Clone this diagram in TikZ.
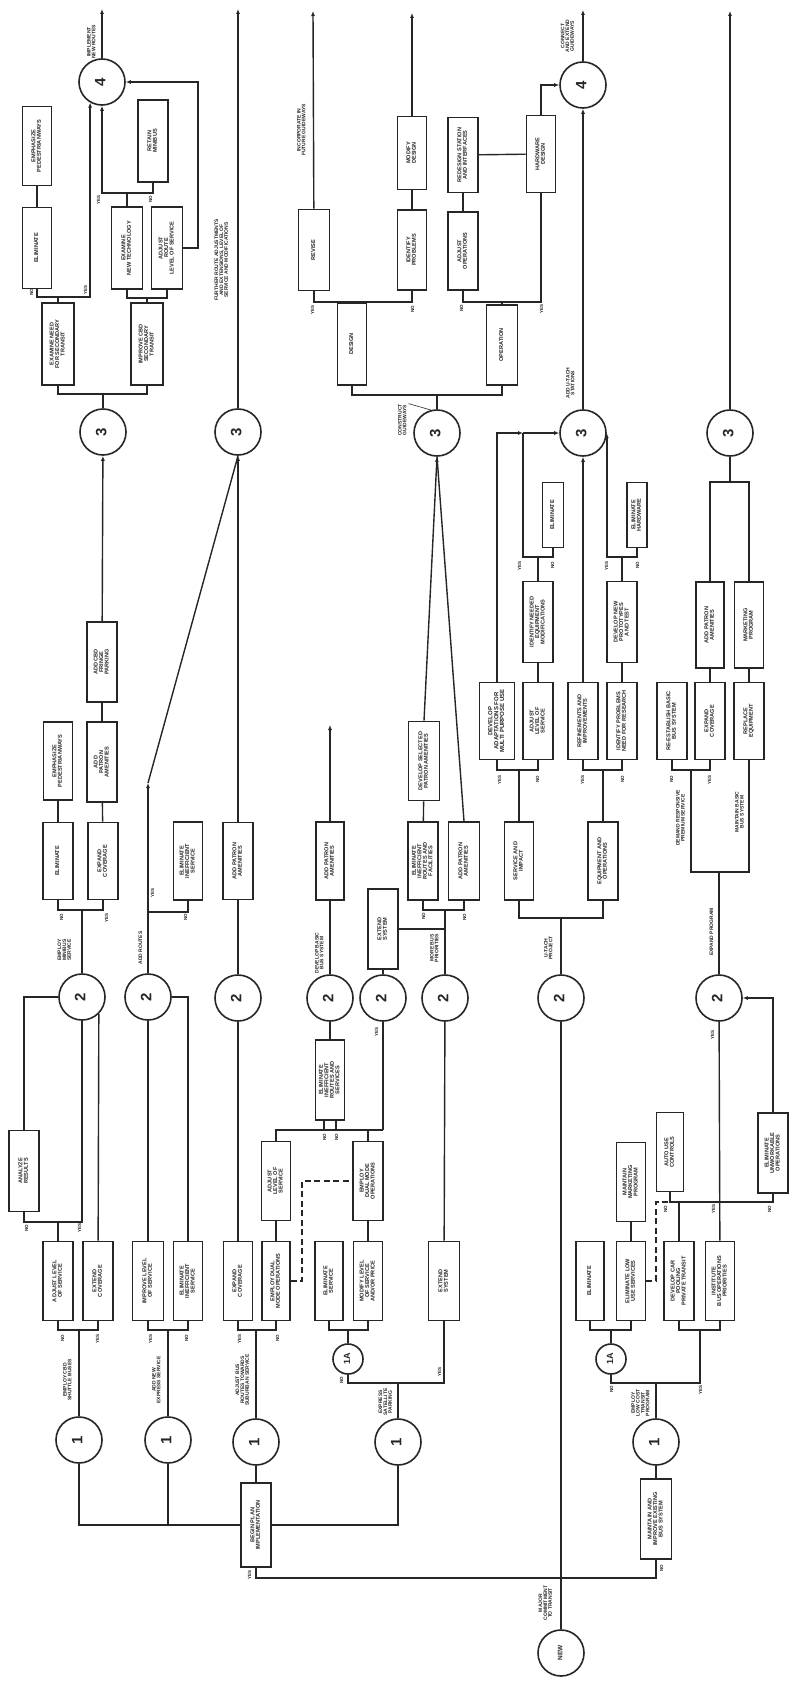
\documentclass[tikz,border=0pt]{standalone}
\usepackage{fontspec}
\setmainfont{Liberation Sans}
\usepackage{graphicx}
\usetikzlibrary{arrows.meta,calc}
\newcommand{\rt}[1]{\rotatebox{90}{\renewcommand{\arraystretch}{0.8}\begin{tabular}{@{}c@{}}#1\end{tabular}}}
\tikzset{
  box/.style={draw, line width=1.6pt, minimum width=30pt, minimum height=79pt, inner sep=0pt, font=\fontsize{5.6}{6.6}\selectfont\bfseries},
  circ/.style={circle, draw, line width=1.6pt, minimum size=46pt, inner sep=0pt, font=\fontsize{15}{15}\selectfont\bfseries},
  scirc/.style={circle, draw, line width=1.6pt, minimum size=30pt, inner sep=0pt, font=\fontsize{9}{9}\selectfont\bfseries},
  lab/.style={inner sep=0pt, font=\fontsize{5}{5.6}\selectfont\bfseries},
  yn/.style={inner sep=0pt, font=\fontsize{4.5}{4.5}\selectfont\bfseries},
  arr/.style={-{Latex[length=5pt,width=4pt]}},
  dsh/.style={dash pattern=on 6pt off 3.5pt},
}
\begin{document}
\begin{tikzpicture}[x=1pt,y=-1pt,line width=1.4pt,color=black!85]
\fill[white] (0,0) rectangle (790,1683);
\useasboundingbox (0,0) rectangle (790,1683);

% ---------- circles ----------
\node[circ] (c4a) at (102,82) {\rt{4}};
\node[circ] (c3a) at (103,432) {\rt{3}};
\node[circ] (c3b) at (238,432) {\rt{3}};
\node[circ] (c3c) at (437,433) {\rt{3}};
\node[circ] (c3d) at (583,433) {\rt{3}};
\node[circ] (c4b) at (583,85) {\rt{4}};
\node[circ] (c3e) at (730,433) {\rt{3}};
\node[circ] (c2a) at (82,997) {\rt{2}};
\node[circ] (c2b) at (148,997) {\rt{2}};
\node[circ] (c2c) at (238,998) {\rt{2}};
\node[circ] (c2d) at (330,998) {\rt{2}};
\node[circ] (c2e) at (383,998) {\rt{2}};
\node[circ] (c2f) at (445,998) {\rt{2}};
\node[circ] (c2g) at (561,998) {\rt{2}};
\node[circ] (c2h) at (719,998) {\rt{2}};
\node[circ] (c1a) at (79,1440) {\rt{1}};
\node[circ] (c1b) at (168,1440) {\rt{1}};
\node[circ] (c1c) at (256,1442) {\rt{1}};
\node[circ] (c1d) at (398,1442) {\rt{1}};
\node[circ] (c1e) at (656,1442) {\rt{1}};
\node[scirc] (c1Aa) at (348,1359) {\rt{1A}};
\node[scirc] (c1Ab) at (611,1359) {\rt{1A}};
\node[circ,font=\fontsize{6.5}{6.5}\selectfont\bfseries] (cnew) at (561,1653) {\rt{NEW}};

% ---------- boxes ----------
\node[box,minimum width=29pt] (bEmph1) at (37,146) {\rt{EMPHASIZE\\PEDESTRIANWAYS}};
\node[box,minimum width=29pt,minimum height=81pt] (bElim1) at (37,248) {\rt{ELIMINATE}};
\node[box,minimum width=32pt,minimum height=82pt] (bExNeed) at (58,344) {\rt{EXAMINE NEED\\FOR SECONDARY\\TRANSIT}};
\node[box,minimum width=32pt,minimum height=82pt] (bImpCBD) at (147,344) {\rt{IMPROVE CBD\\SECONDARY\\TRANSIT}};
\node[box,minimum width=31pt,minimum height=82pt] (bExTech) at (127,248) {\rt{EXAMINE\\NEW TECHNOLOGY}};
\node[box,minimum width=31pt,minimum height=82pt] (bAdjRoute) at (167,248) {\rt{ADJUST\\ROUTE\\LEVEL OF SERVICE}};
\node[box,minimum height=82pt] (bRetain) at (153,141) {\rt{RETAIN\\MINIBUS}};
\node[box,minimum height=80pt] (bCBDFringe) at (102,662) {\rt{ADD CBD\\FRINGE\\PARKING}};
\node[box,minimum width=29pt,minimum height=78pt] (bEmph2) at (58,761) {\rt{EMPHASIZE\\PEDESTRIANWAYS}};
\node[box,minimum height=80pt] (bAddPat1) at (102,762) {\rt{ADD\\PATRON\\AMENITIES}};
\node[box,minimum height=77pt] (bElim2) at (58,861) {\rt{ELIMINATE}};
\node[box,minimum height=77pt] (bExpCov1) at (103,861) {\rt{EXPAND\\COVERAGE}};
\node[box,minimum width=29pt,minimum height=78pt] (bElimIneff1) at (188,861) {\rt{ELIMINATE\\INEFFICIENT\\SERVICE}};
\node[box,minimum height=77pt] (bAddPat2) at (238,861) {\rt{ADD PATRON\\AMENITIES}};
\node[box,minimum width=28pt,minimum height=78pt] (bAddPat3) at (330,861) {\rt{ADD PATRON\\AMENITIES}};
\node[box,minimum height=80pt] (bExtSys1) at (383,929) {\rt{EXTEND\\SYSTEM}};
\node[box,minimum width=31pt] (bDevSel) at (424,761) {\rt{DEVELOP SELECTED\\PATRON AMENITIES}};
\node[box,minimum height=78pt] (bElimIRF) at (423,861) {\rt{ELIMINATE\\INEFFICIENT\\ROUTES AND\\FACILITIES}};
\node[box,minimum width=31pt,minimum height=78pt] (bAddPat4) at (464,861) {\rt{ADD PATRON\\AMENITIES}};
\node[box,minimum height=81pt] (bAnalyze) at (24,1171) {\rt{ANALYZE\\RESULTS}};
\node[box] (bAdjLev1) at (58,1281) {\rt{ADJUST LEVEL\\OF SERVICE}};
\node[box] (bExtCov) at (98,1281) {\rt{EXTEND\\COVERAGE}};
\node[box,minimum width=31pt] (bImpLev) at (148,1281) {\rt{IMPROVE LEVEL\\OF SERVICE}};
\node[box,minimum width=29pt] (bElimIneff2) at (188,1281) {\rt{ELIMINATE\\INEFFICIENT\\SERVICE}};
\node[box,minimum width=29pt] (bExpCov2) at (238,1281) {\rt{EXPAND\\COVERAGE}};
\node[box,minimum width=28pt] (bDual1) at (276,1281) {\rt{EMPLOY DUAL\\MODE OPERATIONS}};
\node[box,minimum width=29pt] (bAdjLev2) at (276,1181) {\rt{ADJUST\\LEVEL OF\\SERVICE}};
\node[box,minimum width=29pt,minimum height=80pt] (bElimIRS) at (330,1080) {\rt{ELIMINATE\\INEFFICIENT\\ROUTES AND\\SERVICES}};
\node[box] (bDual2) at (368,1181) {\rt{EMPLOY\\DUAL MODE\\OPERATIONS}};
\node[box,minimum width=28pt] (bElimServ) at (329,1281) {\rt{ELIMINATE\\SERVICE}};
\node[box,minimum width=29pt] (bModify) at (368,1281) {\rt{MODIFY LEVEL\\OF SERVICE\\AND/OR PRICE}};
\node[box,minimum width=31pt] (bExtSys2) at (444,1281) {\rt{EXTEND\\SYSTEM}};
\node[box,minimum height=84pt] (bBegin) at (256,1525) {\rt{BEGIN PLAN\\IMPLEMENTATION}};
\node[box,minimum width=31pt,minimum height=80pt] (bMaint) at (656,1519) {\rt{MAINTAIN AND\\IMPROVE EXISTING\\BUS SYSTEM}};
\node[box,minimum width=28pt] (bElim3) at (590,1281) {\rt{ELIMINATE}};
\node[box,minimum width=29pt] (bElimLow) at (631,1281) {\rt{ELIMINATE LOW\\USE SERVICES}};
\node[box,minimum width=29pt] (bMktg1) at (631,1182) {\rt{MAINTAIN\\MARKETING\\PROGRAM}};
\node[box] (bCarPool) at (679,1281) {\rt{DEVELOP CAR\\POOLING\\PRIVATE TRANSIT}};
\node[box,minimum width=29pt] (bInstitute) at (720,1281) {\rt{INSTITUTE\\BUS OPERATIONS\\PRIORITIES}};
\node[box,minimum width=27pt] (bAutoUse) at (670,1152) {\rt{AUTO USE\\CONTROLS}};
\node[box,minimum height=80pt] (bElimUnw) at (773,1153) {\rt{ELIMINATE\\UNWORKABLE\\OPERATIONS}};
\node[box,minimum width=29pt,minimum height=78pt] (bServImp) at (519,861) {\rt{SERVICE AND\\IMPACT}};
\node[box,minimum height=78pt] (bEquip) at (603,861) {\rt{EQUIPMENT AND\\OPERATIONS}};
\node[box,minimum width=35pt,minimum height=77pt,font=\fontsize{6}{7}\selectfont\bfseries] (bDevAdapt) at (497,721) {\rt{DEVELOP\\ADAPTATIONS FOR\\MULTI PURPOSE USE}};
\node[box,minimum height=77pt] (bAdjLev3) at (538,721) {\rt{ADJUST\\LEVEL OF\\SERVICE}};
\node[box,minimum height=77pt] (bRefine) at (583,721) {\rt{REFINEMENTS AND\\IMPROVEMENTS}};
\node[box,minimum height=77pt] (bIdentProb) at (622,721) {\rt{IDENTIFY PROBLEMS\\NEED FOR RESEARCH}};
\node[box,minimum height=77pt] (bReEst) at (672,721) {\rt{RE-ESTABLISH BASIC\\BUS SYSTEM}};
\node[box,minimum height=77pt] (bExpCov3) at (710,721) {\rt{EXPAND\\COVERAGE}};
\node[box,minimum height=77pt] (bReplace) at (749,721) {\rt{REPLACE\\EQUIPMENT}};
\node[box,minimum height=81pt] (bIdentEq) at (538,622) {\rt{IDENTIFY NEEDED\\EQUIPMENT\\MODIFICATIONS}};
\node[box,minimum width=21pt,minimum height=65pt] (bElim4) at (553,515) {\rt{ELIMINATE}};
\node[box,minimum height=81pt] (bDevProto) at (622,622) {\rt{DEVELOP NEW\\PROTOTYPES\\AND TEST}};
\node[box,minimum width=20pt,minimum height=65pt] (bElimHW) at (637,515) {\rt{ELIMINATE\\HARDWARE}};
\node[box,minimum width=28pt,minimum height=86pt] (bAddPat5) at (710,625) {\rt{ADD PATRON\\AMENITIES}};
\node[box,minimum width=29pt,minimum height=86pt] (bMktg2) at (749,625) {\rt{MARKETING\\PROGRAM}};
\node[box,minimum width=29pt,minimum height=82pt] (bDesign) at (352,344) {\rt{DESIGN}};
\node[box,minimum width=31pt,minimum height=80pt] (bOper) at (502,345) {\rt{OPERATION}};
\node[box,minimum width=31pt,minimum height=81pt] (bRevise) at (314,250) {\rt{REVISE}};
\node[box,minimum width=29pt,minimum height=80pt] (bIdProb2) at (412,250) {\rt{IDENTIFY\\PROBLEMS}};
\node[box,minimum width=29pt,minimum height=73pt] (bModDes) at (412,153) {\rt{MODIFY\\DESIGN}};
\node[box,minimum height=78pt] (bAdjOps) at (463,251) {\rt{ADJUST\\OPERATIONS}};
\node[box,minimum height=75pt] (bRedesign) at (463,155) {\rt{REDESIGN STATION\\AND INTERFACES}};
\node[box,minimum width=29pt,minimum height=77pt] (bHW) at (541,154) {\rt{HARDWARE\\DESIGN}};

% ---------- coordinates ----------
\coordinate (t1) at (102,9);
\coordinate (t2) at (238,9);
\coordinate (t3) at (313,11);
\coordinate (t4) at (412,13);
\coordinate (t5) at (583,10);
\coordinate (t6) at (730,11);
\coordinate (fA0) at (103,394);
\coordinate (fA1) at (58,297);
\coordinate (fA2) at (127,193);
\coordinate (fA3) at (147,298);
\coordinate (cAR) at (198,82);
\coordinate (fA4) at (82,910);
\coordinate (fA5) at (58,1222);
\coordinate (fA6) at (79,1330);
\coordinate (fB1) at (168,1330);
\coordinate (fB2) at (148,912);
\coordinate (aB) at (148,783);
\coordinate (aD) at (330,725);
\coordinate (fC1) at (256,1330);
\coordinate (dA) at (302,1181);
\coordinate (fC3) at (383,1130);
\coordinate (fC4) at (368,1130);
\coordinate (fC5) at (324,1130);
\coordinate (fC6) at (336,1130);
\coordinate (jD) at (445,929);
\coordinate (fD0) at (398,1383);
\coordinate (fD1) at (348,1330);
\coordinate (fD2) at (445,910);
\coordinate (fE0) at (437,395);
\coordinate (fE1) at (352,302);
\coordinate (fE2) at (502,302);
\coordinate (fF0) at (561,918);
\coordinate (fF1) at (519,770);
\coordinate (fF2) at (603,770);
\coordinate (aF) at (523,433);
\coordinate (fF3) at (538,557);
\coordinate (fF4) at (622,557);
\coordinate (fG0) at (730,482);
\coordinate (fG1) at (691,770);
\coordinate (fG2) at (719,872);
\coordinate (j0) at (561,1578);
\coordinate (fH0) at (656,1383);
\coordinate (fH1) at (700,1330);
\coordinate (fH2) at (611,1330);
\coordinate (fH3) at (670,1202);
\coordinate (fH4) at (679,1202);
\coordinate (dH) at (656,1202);
\coordinate (jB) at (168,1525);

% ---------- connectors: top-left group ----------
\draw[arr] (c4a) -- (t1);
\draw (c3a) -- (fA0);
\draw (bExNeed) |- (fA0) -| (bImpCBD);
\draw (bExNeed) -- (fA1);
\draw (bElim1) |- (fA1);
\draw[arr] (fA1) -| (c4a.240);
\draw (bEmph1) -- (bElim1);
\draw (bImpCBD) -- (fA3);
\draw (bExTech) |- (fA3) -| (bAdjRoute);
\draw (bExTech) -- (fA2);
\draw (bRetain) |- (fA2);
\draw[arr] (fA2) -| (c4a);
\draw[arr] (bAdjRoute.east) -| (cAR) -- (c4a);
\draw[arr] (bCBDFringe) -- (c3a);
\draw (bAddPat1) -- (bCBDFringe);
\draw (bExpCov1) -- (bAddPat1);
\draw (bElim2) -- (bEmph2);
\draw (c2a) -- (fA4);
\draw (bElim2) |- (fA4) -| (bExpCov1);
\draw (bAnalyze) |- (c2a);
\draw (bAdjLev1) -- (fA5);
\draw (bAnalyze) |- (fA5) -| (c2a);
\draw (bExtCov) -- (c2a.315);
\draw (c1a) -- (fA6);
\draw (bAdjLev1) |- (fA6) -| (bExtCov);

% ---------- ADD ROUTES group ----------
\draw (c1b) -- (fB1);
\draw (bImpLev) |- (fB1) -| (bElimIneff2);
\draw (bImpLev) -- (c2b);
\draw (bElimIneff2) |- (c2b);
\draw (c2b) -- (fB2);
\draw (fB2) -| (bElimIneff1);
\draw[arr] (fB2) -- (aB);
\draw (aB) -- (c3b.south);
\draw (c2c) -- (bAddPat2);
\draw[arr] (bAddPat2) -- (c3b);
\draw[arr] (c3b) -- (t2);
\draw (c1c) -- (fC1);
\draw (bExpCov2) |- (fC1) -| (bDual1);
\draw (bExpCov2) -- (c2c);
\draw (bDual1) -- (bAdjLev2);
\draw[dsh] (bDual1.east) -| (dA) -- (bDual2);
\draw (bAdjLev2) |- (fC3);
\draw (fC3) -- (c2e);
\draw (bDual2) -- (fC4);
\draw (bModify) -- (bDual2);
\draw (fC5) -- (fC5 |- bElimIRS.south);
\draw (fC6) -- (fC6 |- bElimIRS.south);
\draw (bElimIRS) -- (c2d);
\draw (c2d) -- (bAddPat3);
\draw[arr] (bAddPat3) -- (aD);
\draw (c2e) -- (bExtSys1);
\draw (bExtSys1) -- (jD);
\draw (c1d) -- (fD0);
\draw (c1Aa) |- (fD0) -| (bExtSys2);
\draw (c1Aa) -- (fD1);
\draw (bElimServ) |- (fD1) -| (bModify);
\draw (bExtSys2) -- (c2f);
\draw (c2f) -- (fD2);
\draw (bElimIRF) |- (fD2) -| (bAddPat4);
\draw (bElimIRF) -- (bDevSel);
\draw[arr] (bDevSel.north) -- (c3c.south);
\draw (bAddPat4.north) -- (c3c.south);

% ---------- guideways group ----------
\draw (c3c) -- (fE0);
\draw (bDesign) |- (fE0) -| (bOper);
\draw (bDesign) -- (fE1);
\draw (bRevise) |- (fE1) -| (bIdProb2);
\draw[arr] (bRevise) -- (t3);
\draw (bIdProb2) -- (bModDes);
\draw[arr] (bModDes) -- (t4);
\draw (bOper) -- (fE2);
\draw (bAdjOps) |- (fE2) -| (bHW);
\draw (bAdjOps) -- (bRedesign);
\draw (bRedesign) -- (bHW);
\draw[arr] (bHW) |- (c4b);
\draw[arr] (c3d) -- (c4b);
\draw[arr] (c4b) -- (t5);

% ---------- U-TACH group ----------
\draw (c2g) -- (fF0);
\draw (bServImp) |- (fF0) -| (bEquip);
\draw (bServImp) -- (fF1);
\draw (bDevAdapt) |- (fF1) -| (bAdjLev3);
\draw (bEquip) -- (fF2);
\draw (bRefine) |- (fF2) -| (bIdentProb);
\draw[arr] (bDevAdapt) |- (aF);
\draw[arr] (aF) -- (c3d);
\draw (bAdjLev3) -- (bIdentEq);
\draw (bIdentEq) -- (fF3);
\draw (fF3) -| (bElim4);
\draw (fF3) -| (aF);
\draw[arr] (bRefine) -- (c3d);
\draw (bIdentProb) -- (bDevProto);
\draw (bDevProto) -- (fF4);
\draw[arr] (fF4) -| (c3d.east);
\draw (fF4) -| (bElimHW);

% ---------- expand program group ----------
\draw (c3e) -- (fG0);
\draw (bAddPat5) |- (fG0) -| (bMktg2);
\draw[arr] (c3e) -- (t6);
\draw (bAddPat5) -- (bExpCov3);
\draw (bMktg2) -- (bReplace);
\draw (bReEst) |- (fG1) -| (bExpCov3);
\draw (fG1) |- (fG2);
\draw (bReplace) |- (fG2);
\draw (c2h) -- (fG2);
\draw (bInstitute) -- (c2h);
\draw[arr] (bElimUnw) |- (c2h);
\draw (bAutoUse) -- (fH3) -| (bElimUnw);
\draw (bCarPool) -- (fH4);
\draw (bElimLow) -- (bMktg1);
\draw[dsh] (bElimLow.east) -| (dH) -- (fH3);
\draw (c1Ab) -- (fH2);
\draw (bElim3) |- (fH2) -| (bElimLow);
\draw (c1e) -- (fH0);
\draw (c1Ab) |- (fH0) -| (fH1);
\draw (bCarPool) |- (fH1) -| (bInstitute);

% ---------- bottom ----------
\draw (cnew) -- (c2g);
\draw (bBegin) |- (j0);
\draw (bMaint) |- (j0);
\draw (bMaint) -- (c1e);
\draw (bBegin) -- (c1c);
\draw (c1a) |- (bBegin);
\draw (c1b) -- (jB);
\draw (c1d) |- (bBegin);

% ---------- text labels ----------
\node[lab] (n1) at (92,42) {\rt{IMPLEMENT\\NEW ROUTES}};
\node[lab] (n2) at (222,260) {\rt{FURTHER ROUTE ADJUSTMENTS\\AND EXTENSIONS, LEVEL OF\\SERVICE AND MODIFICATIONS}};
\node[lab] (n3) at (302,130) {\rt{INCORPORATE IN\\FUTURE GUIDEWAYS}};
\node[lab] (n4) at (568,36) {\rt{CONNECT\\AND EXTEND\\GUIDEWAYS}};
\node[lab] (n5) at (403,420) {\rt{CONSTRUCT\\GUIDEWAYS}};
\draw[line width=0.6pt] (n5.north east) -- (c3c.105);
\node[lab] (n6) at (571,383) {\rt{ADD U-TACH\\STATIONS}};
\node[lab] (n7) at (65,950) {\rt{EMPLOY\\MINIBUS\\SERVICE}};
\node[lab] (n8) at (141,948) {\rt{ADD ROUTES}};
\node[lab] (n9) at (320,953) {\rt{DEVELOP BASIC\\BUS SYSTEM}};
\node[lab] (n10) at (435,948) {\rt{MORE BUS\\PRIORITIES}};
\node[lab] (n11) at (549,948) {\rt{U-TACH\\PROJECT}};
\node[lab] (n12) at (681,818) {\rt{DEMAND RESPONSIVE\\PREMIUM SERVICE}};
\node[lab] (n13) at (740,812) {\rt{MAINTAIN BASIC\\BUS SYSTEM}};
\node[lab] (n14) at (712,932) {\rt{EXPAND PROGRAM}};
\node[lab] (n15) at (68,1380) {\rt{EMPLOY CBD\\SHUTTLE BUSES}};
\node[lab] (n16) at (157,1380) {\rt{ADD NEW\\EXPRESS SERVICE}};
\node[lab] (n17) at (243,1380) {\rt{ADJUST BUS\\ROUTES TOWARDS\\SUBURBAN SERVICE}};
\node[lab] (n18) at (386,1402) {\rt{EXPRESS\\SATELLITE\\PARKING}};
\node[lab] (n19) at (641,1403) {\rt{EMPLOY\\LOW COST\\TRANSIT\\PROGRAM}};
\node[lab] (n20) at (546,1603) {\rt{MAJOR\\COMMITMENT\\TO TRANSIT}};

% ---------- YES / NO labels ----------
\node[yn] (y1) at (32,292) {\rt{NO}};
\node[yn] (y2) at (86,290) {\rt{YES}};
\node[yn] (y3) at (99,200) {\rt{YES}};
\node[yn] (y4) at (151,199) {\rt{NO}};
\node[yn] (y5) at (62,917) {\rt{NO}};
\node[yn] (y6) at (107,918) {\rt{YES}};
\node[yn] (y7) at (27,1228) {\rt{NO}};
\node[yn] (y8) at (80,1228) {\rt{YES}};
\node[yn] (y9) at (63,1338) {\rt{NO}};
\node[yn] (y10) at (98,1339) {\rt{YES}};
\node[yn] (y11) at (151,1339) {\rt{YES}};
\node[yn] (y12) at (187,1338) {\rt{NO}};
\node[yn] (y13) at (240,1339) {\rt{YES}};
\node[yn] (y14) at (278,1338) {\rt{NO}};
\node[yn] (y15) at (153,893) {\rt{YES}};
\node[yn] (y16) at (186,917) {\rt{NO}};
\node[yn] (y17) at (325,1137) {\rt{NO}};
\node[yn] (y18) at (337,1137) {\rt{NO}};
\node[yn] (y19) at (377,1032) {\rt{YES}};
\node[yn] (y20) at (342,1380) {\rt{NO}};
\node[yn] (y21) at (440,1372) {\rt{YES}};
\node[yn] (y22) at (424,916) {\rt{NO}};
\node[yn] (y23) at (465,917) {\rt{NO}};
\node[yn] (y24) at (313,310) {\rt{YES}};
\node[yn] (y25) at (413,309) {\rt{NO}};
\node[yn] (y26) at (462,308) {\rt{NO}};
\node[yn] (y27) at (542,309) {\rt{YES}};
\node[yn] (y28) at (500,780) {\rt{YES}};
\node[yn] (y29) at (538,779) {\rt{NO}};
\node[yn] (y30) at (583,780) {\rt{YES}};
\node[yn] (y31) at (623,779) {\rt{NO}};
\node[yn] (y32) at (520,566) {\rt{YES}};
\node[yn] (y33) at (553,565) {\rt{NO}};
\node[yn] (y34) at (607,566) {\rt{YES}};
\node[yn] (y35) at (638,565) {\rt{NO}};
\node[yn] (y36) at (672,779) {\rt{NO}};
\node[yn] (y37) at (710,780) {\rt{YES}};
\node[yn] (y38) at (713,1035) {\rt{YES}};
\node[yn] (y39) at (666,1209) {\rt{NO}};
\node[yn] (y40) at (714,1209) {\rt{YES}};
\node[yn] (y41) at (770,1209) {\rt{NO}};
\node[yn] (y42) at (612,1389) {\rt{NO}};
\node[yn] (y43) at (701,1390) {\rt{YES}};
\node[yn] (y44) at (250,1575) {\rt{YES}};
\node[yn] (y45) at (662,1568) {\rt{NO}};
\end{tikzpicture}
\end{document}
